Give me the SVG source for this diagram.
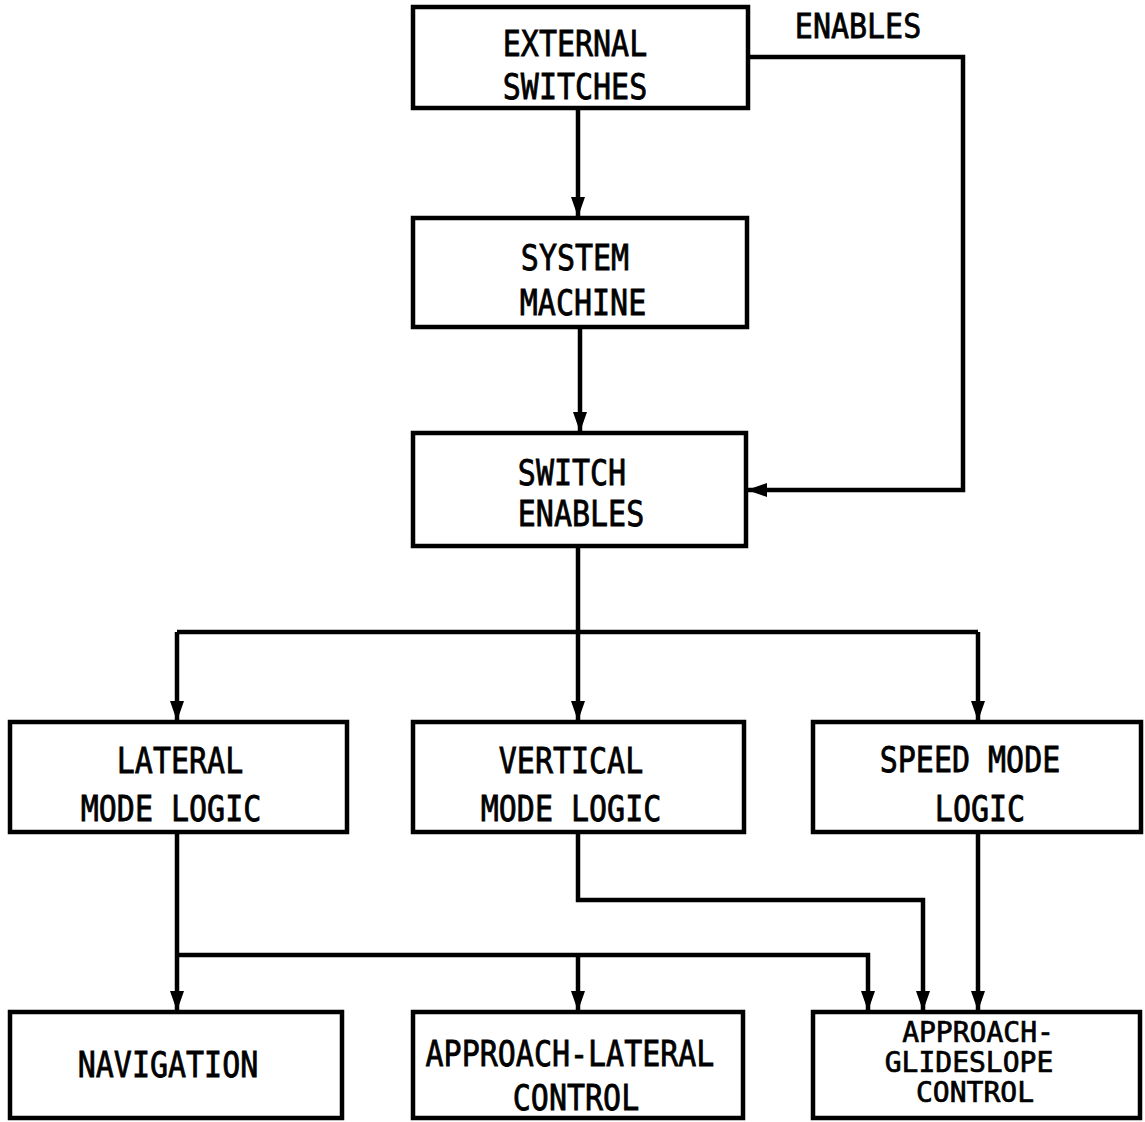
<svg xmlns="http://www.w3.org/2000/svg" width="1145" height="1122" viewBox="0 0 1145 1122">
<style>
.box{fill:#fff;stroke:#000;stroke-width:4.5}
.ln{fill:none;stroke:#000;stroke-width:4.5;stroke-linejoin:miter}
.arr{marker-end:url(#ah)}
text{font-family:"DejaVu Sans Mono","Liberation Mono",monospace;font-size:30px;fill:#000;stroke:#000;stroke-width:0.7;text-anchor:middle}
</style>
<defs>
<marker id="ah" markerUnits="userSpaceOnUse" markerWidth="20" markerHeight="14" refX="19" refY="7" orient="auto" viewBox="0 0 20 14">
<path d="M0,0 L20,7 L0,14 z" fill="#000"/>
</marker>
</defs>
<rect width="1145" height="1122" fill="#fff"/>
<g id="connectors">
<path class="ln arr" d="M578,108 V216"/>
<path class="ln arr" d="M580,327 V431"/>
<path class="ln arr" d="M748,57 H963 V490 H748"/>
<path class="ln" d="M578,546 V632"/>
<path class="ln" d="M177,632 H978"/>
<path class="ln arr" d="M177,632 V720"/>
<path class="ln arr" d="M578,632 V720"/>
<path class="ln arr" d="M978,632 V720"/>
<path class="ln arr" d="M177,832 V1010"/>
<path class="ln arr" d="M177,955 H868 V1010"/>
<path class="ln arr" d="M578,955 V1010"/>
<path class="ln arr" d="M578,832 V900 H923 V1010"/>
<path class="ln arr" d="M978,832 V1010"/>
</g>
<g id="external-switches">
<rect class="box" x="413" y="7" width="335" height="101"/>
<text transform="translate(575,56) scale(1,1.18)">EXTERNAL</text>
<text transform="translate(575,99) scale(1,1.18)">SWITCHES</text>
</g>
<text id="enables-label" transform="translate(858,38) scale(1,1.1)">ENABLES</text>
<g id="system-machine">
<rect class="box" x="413" y="218" width="334" height="109"/>
<text transform="translate(575,270) scale(1,1.18)">SYSTEM</text>
<text transform="translate(583,315) scale(1,1.18)">MACHINE</text>
</g>
<g id="switch-enables">
<rect class="box" x="413" y="433" width="333" height="113"/>
<text transform="translate(572,485) scale(1,1.18)">SWITCH</text>
<text transform="translate(581,526) scale(1,1.18)">ENABLES</text>
</g>
<g id="lateral-mode-logic">
<rect class="box" x="10" y="722" width="337" height="110"/>
<text transform="translate(180,773) scale(1,1.18)">LATERAL</text>
<text transform="translate(171,821) scale(1,1.18)">MODE LOGIC</text>
</g>
<g id="vertical-mode-logic">
<rect class="box" x="413" y="722" width="331" height="110"/>
<text transform="translate(571,773) scale(1,1.18)">VERTICAL</text>
<text transform="translate(571,821) scale(1,1.18)">MODE LOGIC</text>
</g>
<g id="speed-mode-logic">
<rect class="box" x="813" y="722" width="328" height="110"/>
<text transform="translate(970,772) scale(1,1.18)">SPEED MODE</text>
<text transform="translate(980,821) scale(1,1.18)">LOGIC</text>
</g>
<g id="navigation">
<rect class="box" x="10" y="1012" width="332" height="106"/>
<text transform="translate(168,1077) scale(1,1.18)">NAVIGATION</text>
</g>
<g id="approach-lateral-control">
<rect class="box" x="413" y="1012" width="330" height="106"/>
<text transform="translate(570,1066) scale(1,1.18)">APPROACH-LATERAL</text>
<text transform="translate(576,1110) scale(1,1.18)">CONTROL</text>
</g>
<g id="approach-glideslope-control">
<rect class="box" x="813" y="1012" width="327" height="106"/>
<text transform="translate(978,1042)" style="font-size:28px">APPROACH-</text>
<text transform="translate(969,1072)" style="font-size:28px">GLIDESLOPE</text>
<text transform="translate(975,1102)" style="font-size:28px">CONTROL</text>
</g>
</svg>
